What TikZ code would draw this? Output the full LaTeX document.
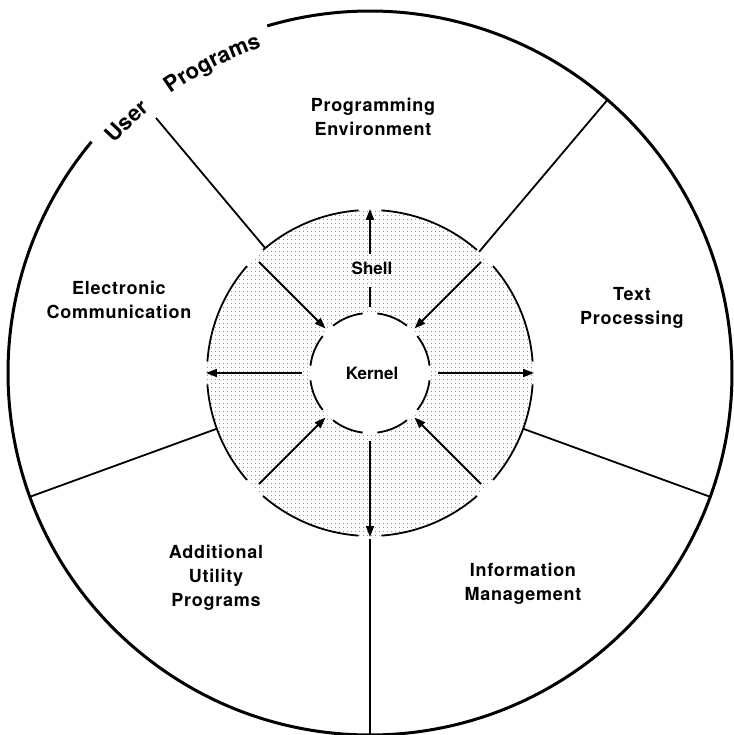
\documentclass[tikz,border=0pt]{standalone}
\usepackage{fontspec}
\setmainfont{TeX Gyre Heros}
\newfontfamily\lblfont[LetterSpace=4]{TeX Gyre Heros}
\usetikzlibrary{arrows.meta,patterns.meta,decorations.text}
\begin{document}
\begin{tikzpicture}[
  lbl/.style={font=\lblfont\bfseries\fontsize{18}{24}\selectfont, align=center, inner sep=0pt},
  core/.style={font=\bfseries\fontsize{17}{20}\selectfont, inner sep=0pt},
  rim/.style={line width=3pt},
  divider/.style={line width=1.8pt},
  ring/.style={line width=1.8pt},
  arr/.style={line width=1.8pt, -{Triangle[length=11pt,width=8pt]}},
  rimtext/.style={decorate, decoration={text along path, text align=center,
     text={|\bfseries\fontsize{22}{22}\selectfont|#1}}},
]
\useasboundingbox (-370pt,-362pt) rectangle (363pt,373pt);
\coordinate (O) at (0pt,0pt);
% dotted shell annulus
\path[pattern={Dots[distance=4pt,radius=0.55pt]}, pattern color=black!75, even odd rule]
  (O) circle[radius=163pt] (O) circle[radius=60pt];
% outer rim with gap for the title
\draw[rim] (140.3:362pt) arc[start angle=140.3, end angle=466.5, radius=362pt];
\path[rimtext=User] (145:343pt) arc[start angle=145, end angle=123, radius=343pt];
\path[rimtext=Programs] (133:343pt) arc[start angle=133, end angle=101, radius=343pt];
% shell circle and kernel circle, broken at the arrows
\foreach \a [evaluate=\a as \s using \a+4, evaluate=\a as \e using \a+41] in {0,45,...,315}
  \draw[ring] (\s:163pt) arc[start angle=\s, end angle=\e, radius=163pt];
\foreach \a [evaluate=\a as \s using \a+7, evaluate=\a as \e using \a+38] in {0,45,...,315}
  \draw[ring] (\s:60pt) arc[start angle=\s, end angle=\e, radius=60pt];
% dividers
\coordinate (d1o) at (130:333pt); \coordinate (d1i) at (130:163pt);
\coordinate (d2o) at (49:362pt);  \coordinate (d2i) at (48:163pt);
\coordinate (d3o) at (200:362pt); \coordinate (d3i) at (200:163pt);
\coordinate (d4o) at (340:362pt); \coordinate (d4i) at (340:163pt);
\coordinate (d5o) at (270:362pt); \coordinate (d5i) at (270:166pt);
\foreach \d in {1,...,5} \draw[divider] (d\d o) -- (d\d i);
% labels
\node[lbl] (pe) at (3pt,256pt) {Programming\\Environment};
\node[lbl] (ec) at (-251pt,73pt) {Electronic\\Communication};
\node[lbl] (tp) at (262pt,65pt) {Text\\Processing};
\node[lbl] (au) at (-154pt,-205pt) {Additional\\Utility\\Programs};
\node[lbl] (im) at (153pt,-211pt) {Information\\Management};
\node[core] (shell) at (2pt,105pt) {Shell};
\node[core] (kernel) at (2pt,0pt) {Kernel};
% arrows
\coordinate (u0) at (90:66pt); \coordinate (u1) at (90:86pt);
\coordinate (u2) at (90:119pt); \coordinate (u3) at (90:164pt);
\draw[ring] (u0) -- (u1);
\draw[arr] (u2) -- (u3);
\foreach \a in {0,180,270} {
  \coordinate (s\a) at (\a:68pt); \coordinate (t\a) at (\a:164pt);
  \draw[arr] (s\a) -- (t\a);
}
\foreach \a in {45,135,225,315} {
  \coordinate (s\a) at (\a:157pt); \coordinate (t\a) at (\a:63pt);
  \draw[arr] (s\a) -- (t\a);
}
\end{tikzpicture}
\end{document}
